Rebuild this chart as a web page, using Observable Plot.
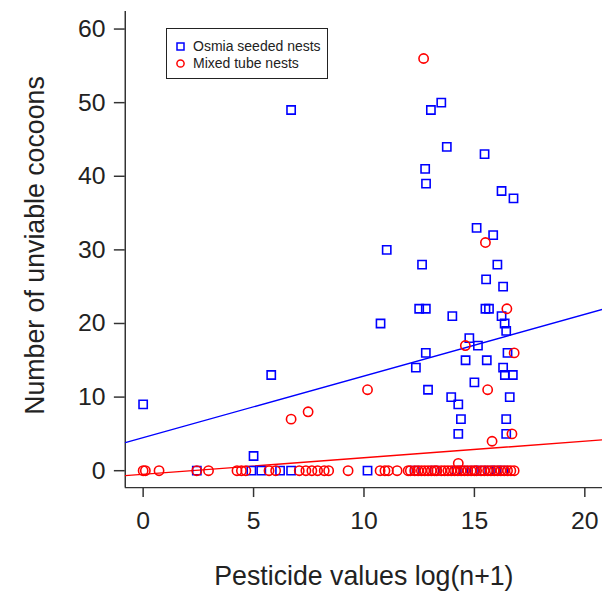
<!DOCTYPE html>
<html>
<head>
<meta charset="utf-8">
<script src="https://cdn.jsdelivr.net/npm/d3@7"></script>
<script src="https://cdn.jsdelivr.net/npm/@observablehq/plot@0.6"></script>
<style>
  html, body { margin: 0; padding: 0; background: #fff; }
  #wrap { position: relative; width: 602px; height: 599px; overflow: hidden; }
  #legend {
    position: absolute; left: 166px; top: 28px; width: 160px; height: 49px;
    border: 1.5px solid #222; background: #fff;
    font-family: "Liberation Sans", Arial, sans-serif; font-size: 14px; color: #222;
  }
  #legend .row { position: absolute; left: 8px; height: 16px; display: flex; align-items: center; }
  #legend svg { margin-right: 7px; }
</style>
</head>
<body>
<div id="wrap"></div>
<script>
// Osmia seeded nests: pesticide load (log(n+1)) and unviable cocoons
const osmiaX = [0, 6.7, 5.8, 5.0, 10.75, 11.03, 10.16,
  13.5, 13.03, 13.75, 15.46, 12.77, 12.81, 16.23, 16.77, 15.1, 15.85,
  12.63, 16.04, 15.53, 16.3, 12.5, 12.8, 14.0, 15.5, 15.66, 16.23, 16.37, 16.44,
  14.77, 15.16, 12.8, 16.5, 14.6, 15.56, 16.3, 12.35, 16.38, 16.74, 15.0, 12.9,
  13.95, 14.27, 16.6, 14.39, 16.44, 14.27, 16.44,
  2.43, 4.9, 5.35, 6.2, 6.7, 12.3, 13.2, 14.2, 14.5, 15.0, 15.3, 15.7, 16.0, 16.3];
const osmiaY = [9, 49, 13, 2, 20, 30, 0,
  50, 49, 44, 43, 41, 39, 38, 37, 33, 32,
  28, 28, 26, 25, 22, 22, 21, 22, 22, 21, 20, 19,
  18, 17, 16, 16, 15, 15, 14, 14, 13, 13, 12, 11,
  10, 9, 10, 7, 7, 5, 5,
  0, 0, 0, 0, 0, 0, 0, 0, 0, 0, 0, 0, 0, 0];

// Mixed tube nests
const mixedX = [12.7, 15.5, 16.47, 14.59, 16.8, 15.6, 16.7, 15.8, 14.27, 6.7, 7.47, 10.16,
  0, 0.1, 0.72, 2.43, 2.96, 4.25, 4.45, 4.65, 5.7, 6.0, 7.07, 7.37, 7.64, 7.9, 8.2, 8.4,
  9.28, 10.73, 10.95, 11.1, 11.5,
  12.0, 12.1, 12.3, 12.45, 12.6, 12.75, 12.9, 13.05, 13.2, 13.3, 13.5, 13.65, 13.8,
  13.95, 14.1, 14.25, 14.4, 14.55, 14.7, 14.85, 15.0, 15.1, 15.3, 15.45, 15.6, 15.75,
  15.9, 16.05, 16.2, 16.35, 16.5, 16.65, 16.8];
const mixedY = [56, 31, 22, 17, 16, 11, 5, 4, 1, 7, 8, 11,
  0, 0, 0, 0, 0, 0, 0, 0, 0, 0, 0, 0, 0, 0, 0, 0,
  0, 0, 0, 0, 0,
  0, 0, 0, 0, 0, 0, 0, 0, 0, 0, 0, 0, 0,
  0, 0, 0, 0, 0, 0, 0, 0, 0, 0, 0, 0, 0,
  0, 0, 0, 0, 0, 0, 0];

// Fitted lines: intercept and slope for each nest type
const fitNames = ["Osmia seeded nests", "Mixed tube nests"];
const fitIntercepts = [4.49, -0.49];
const fitSlopes = [0.838, 0.225];
const fitColors = ["blue", "red"];

const xTicks = [0, 5, 10, 15, 20];
const yTicks = [0, 10, 20, 30, 40, 50, 60];

const xDomain = [-0.81, 20.8];
const yDomain = [-2.3, 62.4];

const osmia = osmiaX.map((x, i) => ({x, y: osmiaY[i]}));
const mixed = mixedX.map((x, i) => ({x, y: mixedY[i]}));
const fits = fitNames.flatMap((name, i) => xDomain.map(x => ({
  name, x, y: fitIntercepts[i] + fitSlopes[i] * x, color: fitColors[i]
})));

const font = "'Liberation Sans', Arial, sans-serif";

const chart = Plot.plot({
  width: 608,
  height: 599,
  marginLeft: 126,
  marginRight: 0,
  marginTop: 11,
  marginBottom: 107,
  style: {fontFamily: font, color: "#222", background: "#fff"},
  x: {domain: xDomain},
  y: {domain: yDomain},
  marks: [
    Plot.ruleX([xDomain[0]], {stroke: "#333", strokeWidth: 1.5}),
    Plot.ruleY([yDomain[0]], {stroke: "#333", strokeWidth: 1.5}),
    Plot.axisY({ticks: yTicks, tickSize: 11, tickPadding: 9, fontSize: 25, label: null, stroke: "#333", strokeWidth: 1.5}),
    Plot.axisX({ticks: xTicks, tickSize: 10, tickPadding: 14, fontSize: 25, label: null, stroke: "#333", strokeWidth: 1.5}),
    Plot.line(fits, {x: "x", y: "y", z: "name", stroke: "color", strokeWidth: 1.4, clip: true}),
    Plot.dot(osmia, {x: "x", y: "y", symbol: "square", r: 4.7, stroke: "blue", strokeWidth: 1.6}),
    Plot.dot(mixed, {x: "x", y: "y", symbol: "circle", r: 4.7, stroke: "red", strokeWidth: 1.6}),
    Plot.text(["Pesticide values log(n+1)"], {frameAnchor: "bottom", lineAnchor: "middle", dy: 90, fontSize: 27, fill: "#222"}),
    Plot.text(["Number of unviable cocoons"], {frameAnchor: "left", textAnchor: "middle", lineAnchor: "middle", dx: -91, dy: -4, rotate: -90, fontSize: 27, fill: "#222"})
  ]
});

const wrap = document.getElementById("wrap");
wrap.appendChild(chart);

// Legend box
const legend = document.createElement("div");
legend.id = "legend";
const entries = [
  {label: fitNames[0], color: fitColors[0], shape: "square", top: 9},
  {label: fitNames[1], color: fitColors[1], shape: "circle", top: 26}
];
for (const e of entries) {
  const row = document.createElement("div");
  row.className = "row";
  row.style.top = e.top + "px";
  const glyph = e.shape === "square"
    ? `<rect x="2" y="2" width="7" height="7" fill="none" stroke="${e.color}" stroke-width="1.5"/>`
    : `<circle cx="5.5" cy="5.5" r="3.6" fill="none" stroke="${e.color}" stroke-width="1.5"/>`;
  row.innerHTML = `<svg width="11" height="11">${glyph}</svg><span>${e.label}</span>`;
  legend.appendChild(row);
}
wrap.appendChild(legend);
</script>
</body>
</html>
